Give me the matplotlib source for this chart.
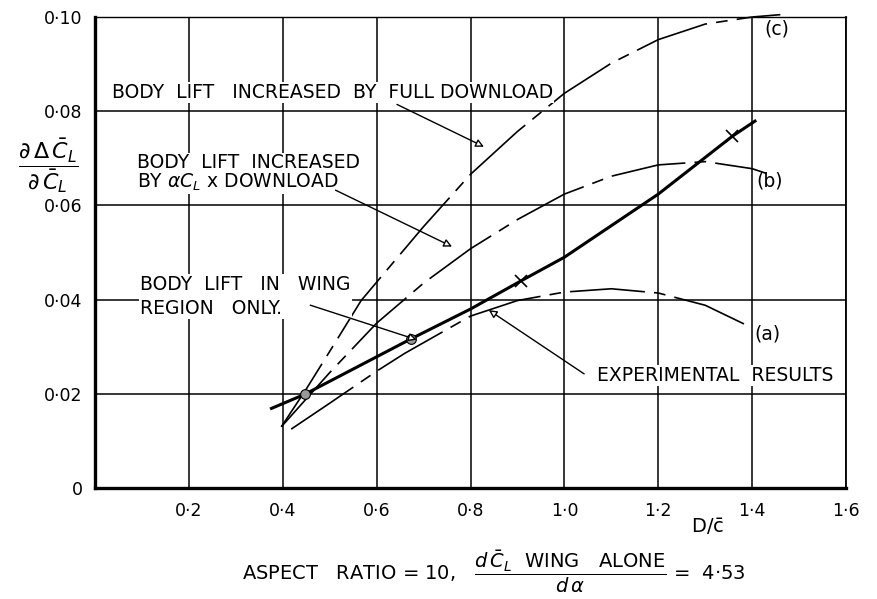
import numpy as np
import matplotlib.pyplot as plt

# curves (D/c, d(dCL)/dCL)
a_x = [0.418, 0.5, 0.6, 0.66, 0.8, 0.9, 1.0, 1.1, 1.2, 1.3, 1.4]
a_y = [0.0125, 0.018, 0.0248, 0.0286, 0.0365, 0.0398, 0.0416, 0.0423, 0.0414, 0.0388, 0.0340]

b_x = [0.397, 0.5, 0.6, 0.7, 0.8, 0.9, 1.0, 1.1, 1.2, 1.3, 1.4, 1.43]
b_y = [0.013, 0.0245, 0.035, 0.0435, 0.0508, 0.057, 0.0624, 0.0662, 0.0686, 0.0693, 0.0678, 0.0668]

c_x = [0.397, 0.45, 0.5, 0.567, 0.6, 0.7, 0.8, 0.9, 1.0, 1.1, 1.2, 1.3, 1.4, 1.46]
c_y = [0.013, 0.021, 0.029, 0.0398, 0.0437, 0.0555, 0.0666, 0.0757, 0.0838, 0.0902, 0.0952, 0.0985, 0.1000, 0.1005]

exp_x = [0.376, 0.447, 0.674, 0.8, 0.908, 1.0, 1.2, 1.358, 1.406]
exp_y = [0.0169, 0.0199, 0.0317, 0.038, 0.044, 0.049, 0.0624, 0.0747, 0.0779]
blob_x = [0.447, 0.674]
blob_y = [0.0199, 0.0317]
cross_x = [0.908, 1.358]
cross_y = [0.044, 0.0747]

xticks = [0.2, 0.4, 0.6, 0.8, 1.0, 1.2, 1.4, 1.6]
xlabels = ['0·2', '0·4', '0·6', '0·8', '1·0', '1·2', '1·4', '1·6']
yticks = [0, 0.02, 0.04, 0.06, 0.08, 0.10]
ylabels = ['0', '0·02', '0·04', '0·06', '0·08', '0·10']

fig = plt.figure(figsize=(8.77, 5.99), dpi=100)
ax = fig.add_axes([0.1083, 0.1853, 0.8564, 0.7863])
ax.set_xlim(0, 1.6)
ax.set_ylim(0, 0.10)

ax.set_xticks(xticks)
ax.set_xticklabels(xlabels)
ax.set_yticks(yticks)
ax.set_yticklabels(ylabels)
ax.tick_params(length=0, labelsize=12.5)
ax.tick_params(axis='x', pad=10)
ax.tick_params(axis='y', pad=9)
ax.grid(True, color='black', lw=1.1)
ax.set_axisbelow(True)
for s, w in [('left', 2.4), ('bottom', 2.4), ('top', 1.0), ('right', 1.3)]:
    ax.spines[s].set_linewidth(w)

dash = (0, (45, 5.5, 7, 5.5))
ax.plot(a_x, a_y, color='black', lw=1.2, linestyle=dash)
ax.plot(b_x, b_y, color='black', lw=1.2, linestyle=dash)
ax.plot(c_x, c_y, color='black', lw=1.2, linestyle=dash, clip_on=False)
ax.plot(exp_x, exp_y, color='black', lw=2.2)
ax.plot(blob_x, blob_y, 'o', ms=7, mfc='0.6', mec='black', mew=0.8)
ax.plot(cross_x, cross_y, 'x', ms=8, color='black', mew=1.2)

box = dict(facecolor='white', edgecolor='none', pad=1)
fs = 13.5
ax.text(0.036, 0.084, 'BODY  LIFT   INCREASED  BY  FULL DOWNLOAD', fontsize=fs,
        va='center', ha='left', bbox=box)
ax.text(0.089, 0.0669, 'BODY  LIFT  INCREASED\nBY $\\alpha C_L$ x DOWNLOAD', fontsize=fs,
        va='center', ha='left', linespacing=1.0, bbox=box)
ax.text(0.096, 0.0407, 'BODY  LIFT   IN   WING\nREGION   ONLY.', fontsize=fs,
        va='center', ha='left', linespacing=1.3, bbox=box)
ax.text(1.07, 0.0239, 'EXPERIMENTAL  RESULTS', fontsize=fs,
        va='center', ha='left', bbox=box)
ax.text(1.405, 0.0328, '(a)', fontsize=fs, va='center', ha='left')
ax.text(1.41, 0.0652, '(b)', fontsize=fs, va='center', ha='left')
ax.text(1.426, 0.0975, '(c)', fontsize=fs, va='center', ha='left')

arr = dict(arrowstyle='-|>', fc='white', ec='black', lw=1.0, mutation_scale=12)
ax.annotate('', xy=(0.834, 0.0722), xytext=(0.638, 0.0817), arrowprops=arr)
ax.annotate('', xy=(0.766, 0.051), xytext=(0.507, 0.0635), arrowprops=arr)
ax.annotate('', xy=(0.691, 0.0313), xytext=(0.453, 0.039), arrowprops=arr)
ax.annotate('', xy=(0.834, 0.0381), xytext=(1.047, 0.0239), arrowprops=arr)

ax.text(1.304, -0.0082, r'D/$\bar{\mathrm{c}}$', fontsize=14, ha='center', va='center')

fig.text(0.055, 0.723, r'$\dfrac{\partial\,\Delta\,\bar{C}_L}{\partial\,\bar{C}_L}$',
         fontsize=16, ha='center', va='center')
fig.text(0.563, 0.045,
         r'ASPECT   RATIO = 10,   $\dfrac{d\,\bar{C}_L\ \ \mathrm{WING\ \ \ ALONE}}{d\,\alpha}$ =  4·53',
         fontsize=14, ha='center', va='center')

fig.savefig('out.png', dpi=100)
